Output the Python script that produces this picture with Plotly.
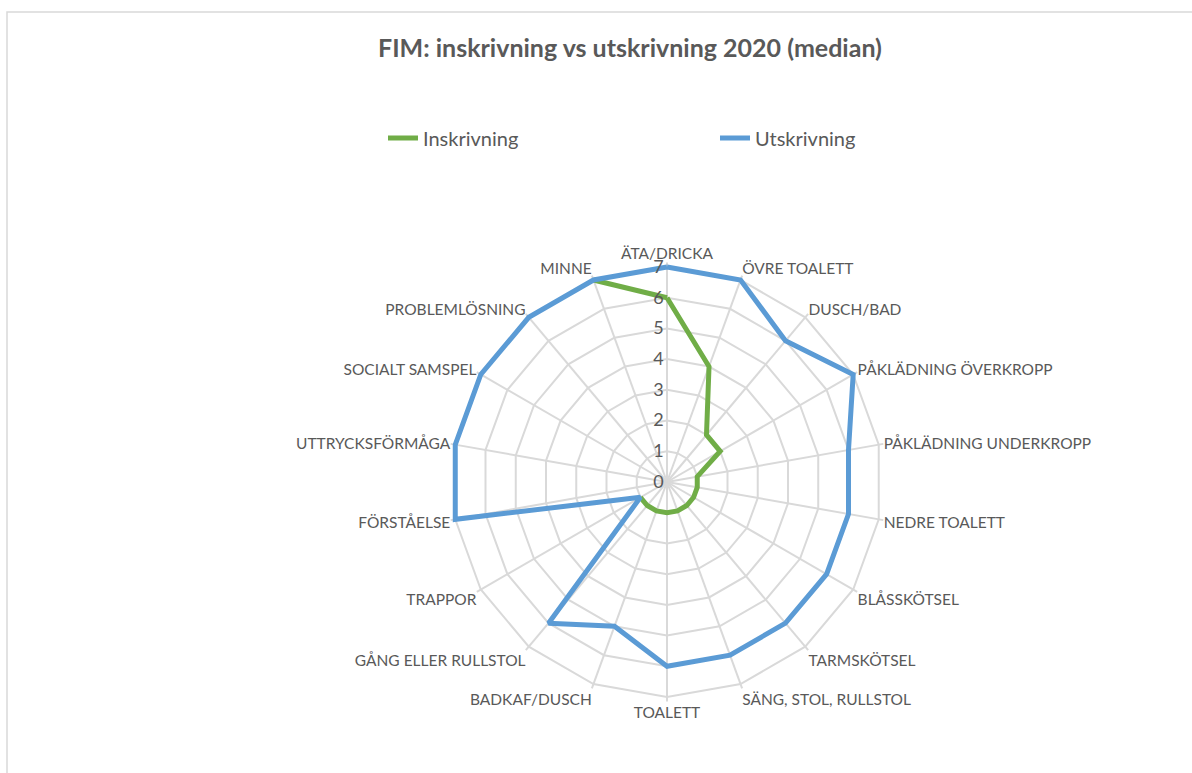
import plotly.graph_objects as go

categories = ["ÄTA/DRICKA", "ÖVRE TOALETT", "DUSCH/BAD", "PÅKLÄDNING ÖVERKROPP",
              "PÅKLÄDNING UNDERKROPP", "NEDRE TOALETT", "BLÅSSKÖTSEL", "TARMSKÖTSEL",
              "SÄNG, STOL, RULLSTOL", "TOALETT", "BADKAF/DUSCH", "GÅNG ELLER RULLSTOL",
              "TRAPPOR", "FÖRSTÅELSE", "UTTRYCKSFÖRMÅGA", "SOCIALT SAMSPEL",
              "PROBLEMLÖSNING", "MINNE"]
inskrivning = [6, 4, 2, 2, 1, 1, 1, 1, 1, 1, 1, 1, 1, None, None, None, None, 7]
utskrivning = [7, 7, 6, 7, 6, 6, 6, 6, 6, 6, 5, 6, 1, 7, 7, 7, 7, 7]
radial_ticks = [0, 1, 2, 3, 4, 5, 6, 7]

W, H = 1192, 773
cx, cy, R7 = 667, 482, 215
rmax = 7.15
R = R7 * rmax / 7

fig = go.Figure()
fig.add_trace(go.Scatterpolar(
    r=inskrivning + [inskrivning[0]], theta=categories + [categories[0]],
    mode="lines", name="Inskrivning", connectgaps=False,
    line=dict(color="#70AD47", width=5)))
fig.add_trace(go.Scatterpolar(
    r=utskrivning + [utskrivning[0]], theta=categories + [categories[0]],
    mode="lines", name="Utskrivning",
    line=dict(color="#5B9BD5", width=5)))

grid = "#D9D9D9"
txt = "#595959"
fig.update_layout(
    width=W, height=H,
    margin=dict(l=0, r=0, t=0, b=0),
    paper_bgcolor="white",
    font=dict(family="Lato", color=txt),
    title=dict(text="<b>FIM: inskrivning vs utskrivning 2020 (median)</b>",
               x=630 / W, xanchor="center", y=1 - 48 / H, yanchor="middle",
               font=dict(size=25, color=txt, family="Lato")),
    showlegend=True,
    legend=dict(orientation="h", x=383 / W, xanchor="left", y=1 - 138 / H, yanchor="middle",
                font=dict(size=20, color=txt, family="Lato"),
                entrywidth=287, entrywidthmode="pixels", bgcolor="rgba(0,0,0,0)"),
    polar=dict(
        domain=dict(x=[(cx - R) / W, (cx + R) / W], y=[1 - (cy + R) / H, 1 - (cy - R) / H]),
        bgcolor="rgba(0,0,0,0)",
        gridshape="linear",
        angularaxis=dict(direction="clockwise", rotation=90, type="category",
                         categoryorder="array", categoryarray=categories,
                         showline=False,
                         gridcolor=grid, gridwidth=1.5, ticks="",
                         tickfont=dict(size=15.5, color=txt, family="Lato")),
        radialaxis=dict(range=[0, rmax], tickvals=radial_ticks, angle=90, tickangle=90,
                        side="counterclockwise", ticksuffix="\u00a0\u00a0",
                        showline=False, ticks="", gridcolor=grid, gridwidth=1.5,
                        tickfont=dict(size=18, color=txt, family="Lato")),
    ),
    shapes=[dict(type="rect", xref="paper", yref="paper",
                 x0=7 / W, x1=1.02, y0=-0.02, y1=1 - 12 / H,
                 line=dict(color="#D9D9D9", width=1.5), fillcolor="rgba(0,0,0,0)", layer="below")],
)

fig.write_html("out.html", config={"displayModeBar": False},
               post_script="document.body.style.margin='0';")
